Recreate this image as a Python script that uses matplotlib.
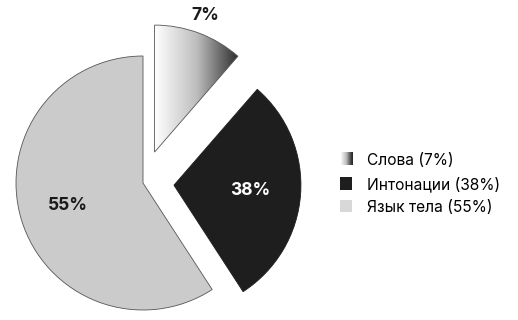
import numpy as np
import matplotlib.pyplot as plt
import matplotlib.patches as mpatches
from matplotlib.colors import LinearSegmentedColormap
from matplotlib.legend_handler import HandlerBase

plt.rcParams['font.family'] = ['Inter', 'DejaVu Sans']

# data
labels = ['Слова', 'Интонации', 'Язык тела']
pct = [7, 38, 55]
# angular share as drawn in the source picture (not proportional there)
drawn = [41, 106, 213]
colors = ['#888888', '#1e1e1e', '#cbcbcb']
legend_colors = ['grad', '#1e1e1e', '#d8d8d8']
explode = [33, 31, 0]  # in pixels (data units)

grad_cmap = LinearSegmentedColormap.from_list('g', ['#ffffff', '#bdbdbd', '#2b2b2b'])

W, H = 518, 320
fig = plt.figure(figsize=(W / 100, H / 100), dpi=100)
ax = fig.add_axes([0, 0, 1, 1])

center = (143, 137)
R = 127
wedges, _ = ax.pie(drawn, colors=colors, explode=explode, startangle=90,
                   counterclock=False, radius=R, center=center, frame=True,
                   wedgeprops=dict(linewidth=0.6, edgecolor='#555555'))
wedges[1].set_edgecolor('#1e1e1e')

# gradient fill for the first wedge
w0 = wedges[0]
ext = w0.get_path().get_extents()
grad = np.linspace(0, 1, 256).reshape(1, -1)
im = ax.imshow(grad, cmap=grad_cmap, extent=[ext.x0, ext.x1, ext.y0, ext.y1],
               aspect='auto', zorder=w0.get_zorder() + 0.1)
im.set_clip_path(w0)
w0.set_facecolor('none')
w0.set_zorder(w0.get_zorder() + 0.2)
ax.set_xlim(0, W)
ax.set_ylim(0, H)
ax.axis('off')

# percentage labels
dists = [1.15, 0.6, 0.62]
tcolors = ['#1a1a1a', 'white', '#1a1a1a']
for w, p, d, c in zip(wedges, pct, dists, tcolors):
    mid = np.deg2rad((w.theta1 + w.theta2) / 2)
    cx, cy = w.center
    ax.text(cx + d * R * np.cos(mid), cy + d * R * np.sin(mid), f'{p}%',
            ha='center', va='center', fontsize=12.5, fontweight='bold', color=c)


class GradHandler(HandlerBase):
    def create_artists(self, legend, orig, xd, yd, width, height, fontsize, trans):
        n = 24
        arts = []
        for i in range(n):
            r = mpatches.Rectangle((xd + width * i / n, yd), width / n + 0.3, height,
                                   facecolor=grad_cmap(i / (n - 1)), edgecolor='none',
                                   transform=trans)
            arts.append(r)
        return arts


handles = []
hmap = {}
for lab, p, c in zip(labels, pct, legend_colors):
    if c == 'grad':
        h = mpatches.Patch(label=f'{lab} ({p}%)')
        hmap[h] = GradHandler()
    else:
        h = mpatches.Patch(facecolor=c, edgecolor='none', label=f'{lab} ({p}%)')
    handles.append(h)

fig.legend(handles=handles, handler_map=hmap, loc='center left',
           bbox_to_anchor=(340 / W, 1 - 184 / H), frameon=False, fontsize=11.2,
           handlelength=0.8, handleheight=0.85, handletextpad=0.95,
           labelspacing=0.5, borderpad=0, borderaxespad=0)

fig.savefig('out.png', dpi=100)
